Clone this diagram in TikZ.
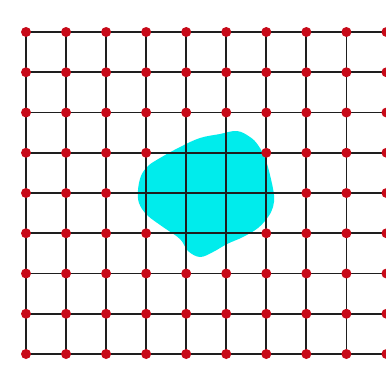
\documentclass[tikz,border=0pt]{standalone}
\definecolor{blobcyan}{RGB}{0,236,236}
\definecolor{dotred}{RGB}{200,10,25}
\definecolor{linegray}{RGB}{30,30,30}
\tikzset{
  gridline/.style={draw=linegray, line width=1.8pt},
  gdot/.style={fill=dotred}
}
\begin{document}
\begin{tikzpicture}[x=1pt,y=-1pt]
\useasboundingbox (0,0) rectangle (386,365);
\fill[white] (0,0) rectangle (386,365);
% blob
\fill[blobcyan] plot[smooth cycle, tension=0.6] coordinates {
  (200,138) (220,134) (237,131) (250,137) (258,145) (265,158) (270,175)
  (274,195) (273,207) (268,217) (258,228) (243,237) (227,244) (213,252)
  (200,257) (188,251) (180,239) (163,227) (147,215) (139,203) (138,190)
  (141,176) (148,166) (160,158) (180,147)};
% grid lines
\foreach \j in {0,...,8}
  \draw[gridline] (26,{32+40.25*\j}) -- (386,{32+40.25*\j});
\foreach \i in {0,...,9}
  \draw[gridline] ({26+40.05*\i},32) -- ({26+40.05*\i},354);
% dots
\foreach \i in {0,...,9}{
  \foreach \j in {0,...,8}{
    \pgfmathtruncatemacro\hide{((\j==3)&&((\i==4)||(\i==5))) || ((\j==4)&&(\i>=3)&&(\i<=6)) || ((\j==5)&&((\i==4)||(\i==5)))}
    \ifnum\hide=0
      \fill[gdot] ({26+40.05*\i},{32+40.25*\j}) circle (5);
    \fi
  }
}
\end{tikzpicture}
\end{document}
